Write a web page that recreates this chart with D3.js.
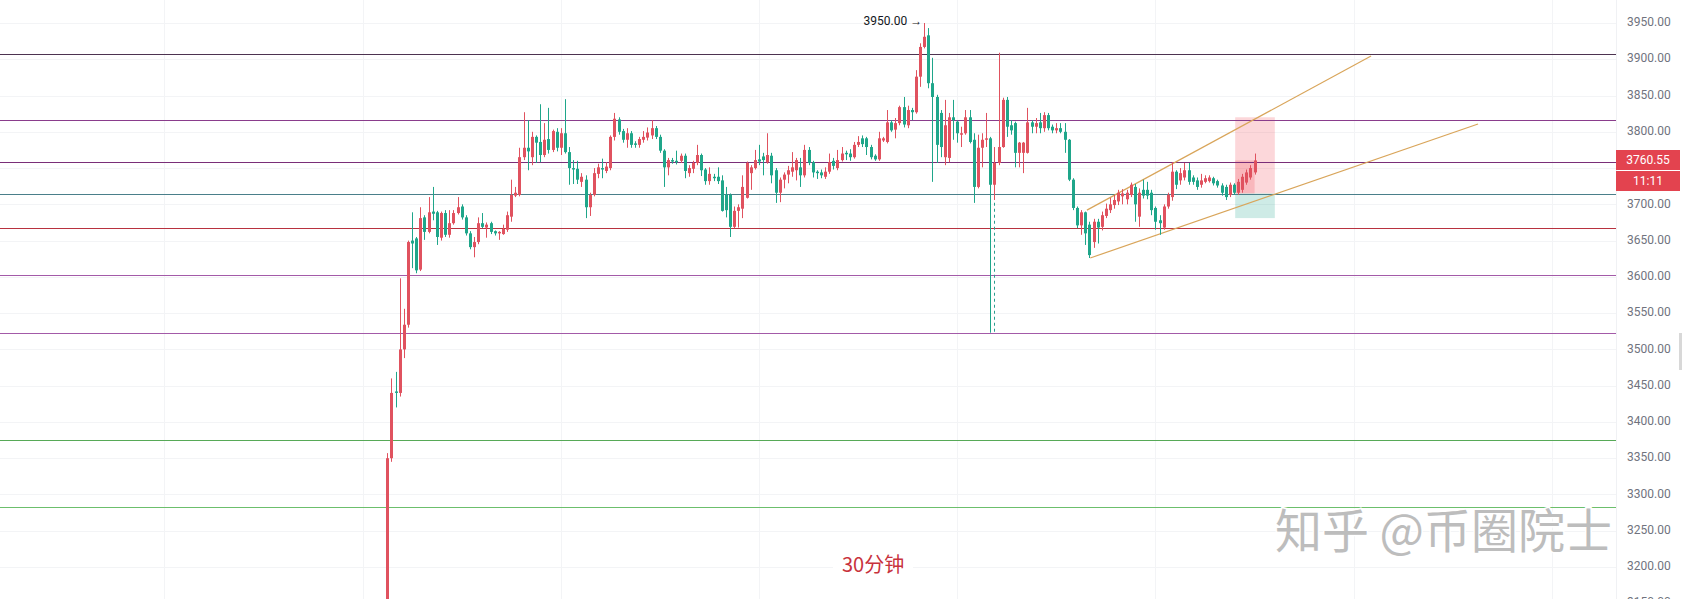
<!DOCTYPE html>
<html><head><meta charset="utf-8">
<script src="https://cdnjs.cloudflare.com/ajax/libs/d3/7.8.5/d3.min.js"></script>
<style>html,body{margin:0;padding:0;background:#fff;overflow:hidden}</style>
</head><body><svg id="c" width="1682" height="599"></svg>
<script>
// ---- DATA ----
// candles: [open, high, low, close], 30-minute bars
const candles = [
[3120,3357,3110,3350],[3350,3460,3345,3440],[3442,3469,3420,3440],[3440,3598,3435,3500],[3500,3556,3488,3534],
[3534,3650,3530,3648],[3650,3689,3612,3646],[3653,3655,3605,3609],[3610,3696,3608,3681],[3682,3685,3651,3662],
[3662,3710,3660,3689],[3690,3724,3678,3687],[3689,3691,3644,3655],[3654,3690,3650,3688],[3688,3692,3655,3658],
[3658,3692,3654,3674],[3674,3692,3672,3688],[3688,3710,3686,3696],[3697,3700,3679,3682],[3682,3685,3657,3660],
[3660,3663,3638,3641],[3641,3655,3627,3648],[3648,3682,3645,3674],[3674,3688,3667,3669],[3668,3675,3654,3672],
[3674,3676,3659,3662],[3663,3664,3657,3660],[3660,3663,3651,3662],[3659,3672,3658,3666],[3665,3690,3662,3685],
[3683,3734,3676,3713],[3712,3724,3710,3716],[3713,3778,3711,3765],[3765,3827,3761,3778],[3778,3816,3747,3773],
[3765,3800,3754,3793],[3793,3795,3757,3785],[3786,3838,3758,3768],[3768,3812,3765,3789],[3790,3833,3770,3775],
[3775,3803,3772,3801],[3800,3805,3773,3778],[3778,3805,3768,3798],[3798,3845,3770,3772],[3772,3779,3727,3750],
[3750,3761,3728,3748],[3749,3760,3728,3734],[3731,3743,3724,3738],[3734,3740,3681,3696],[3696,3716,3684,3713],
[3713,3750,3711,3743],[3742,3756,3736,3751],[3750,3763,3736,3748],[3746,3758,3743,3752],[3750,3795,3747,3793],
[3793,3826,3788,3818],[3817,3820,3796,3800],[3801,3804,3785,3789],[3789,3805,3778,3798],[3798,3801,3778,3782],
[3784,3787,3778,3782],[3782,3793,3778,3790],[3789,3801,3785,3793],[3792,3806,3788,3799],[3795,3816,3790,3805],
[3805,3808,3790,3793],[3793,3796,3771,3774],[3774,3776,3724,3751],[3751,3764,3740,3761],[3761,3764,3756,3759],
[3760,3774,3755,3758],[3760,3770,3757,3767],[3767,3770,3736,3746],[3743,3754,3738,3750],[3749,3760,3743,3757],
[3757,3782,3754,3768],[3768,3770,3739,3747],[3748,3750,3727,3732],[3732,3751,3727,3742],[3738,3742,3732,3736],
[3738,3751,3728,3732],[3733,3740,3690,3691],[3713,3724,3682,3692],[3713,3715,3655,3669],[3669,3697,3667,3691],
[3691,3700,3668,3696],[3694,3740,3681,3724],[3709,3759,3708,3757],[3743,3754,3720,3751],[3750,3775,3748,3761],
[3762,3782,3754,3759],[3766,3771,3740,3761],[3758,3798,3756,3768],[3767,3771,3729,3740],[3747,3750,3702,3716],
[3716,3737,3703,3734],[3734,3744,3722,3741],[3741,3753,3729,3747],[3745,3772,3738,3751],[3747,3764,3733,3761],
[3751,3764,3724,3740],[3740,3782,3737,3775],[3775,3779,3754,3757],[3758,3760,3737,3744],[3745,3747,3735,3743],
[3744,3748,3736,3740],[3738,3751,3735,3745],[3745,3770,3742,3758],[3760,3764,3748,3753],[3750,3775,3747,3761],
[3761,3779,3759,3770],[3771,3774,3761,3769],[3770,3776,3760,3765],[3765,3786,3763,3782],[3782,3794,3779,3786],
[3791,3795,3779,3783],[3791,3793,3768,3779],[3779,3782,3762,3765],[3767,3769,3760,3762],[3762,3800,3760,3791],
[3788,3793,3786,3791],[3786,3830,3784,3813],[3813,3816,3800,3802],[3803,3819,3791,3812],[3812,3836,3809,3834],
[3834,3848,3806,3810],[3809,3836,3805,3830],[3830,3833,3816,3827],[3827,3885,3825,3876],[3876,3922,3862,3917],
[3917,3950,3915,3931],[3933,3943,3860,3867],[3867,3902,3731,3848],[3848,3851,3757,3782],[3826,3830,3765,3779],
[3765,3844,3754,3809],[3764,3826,3758,3820],[3820,3844,3789,3816],[3814,3816,3785,3798],[3796,3807,3779,3798],
[3798,3830,3796,3820],[3820,3830,3784,3786],[3789,3798,3702,3724],[3724,3796,3722,3778],[3778,3798,3751,3789],
[3789,3826,3779,3791],[3791,3793,3523,3727],[3727,3779,3706,3757],[3757,3909,3754,3779],[3779,3847,3778,3844],
[3844,3848,3793,3807],[3809,3816,3796,3802],[3812,3814,3751,3771],[3771,3786,3751,3785],[3771,3786,3743,3785],
[3771,3833,3770,3813],[3813,3816,3798,3807],[3807,3819,3798,3812],[3813,3826,3798,3805],[3805,3827,3800,3823],
[3823,3826,3802,3805],[3807,3810,3798,3802],[3802,3812,3798,3805],[3805,3812,3798,3800],[3800,3812,3771,3789],
[3789,3790,3732,3734],[3734,3736,3692,3695],[3695,3697,3667,3671],[3671,3692,3658,3689],[3689,3690,3644,3660],
[3672,3676,3626,3630],[3648,3680,3640,3676],[3676,3680,3646,3668],[3669,3690,3664,3685],[3684,3701,3681,3694],
[3692,3709,3688,3700],[3699,3713,3694,3706],[3704,3720,3699,3716],[3711,3721,3700,3715],[3707,3720,3700,3716],
[3713,3730,3710,3727],[3724,3728,3676,3700],[3683,3722,3669,3716],[3720,3734,3708,3712],[3720,3731,3707,3712],
[3716,3720,3685,3692],[3695,3697,3665,3676],[3678,3685,3658,3674],[3668,3700,3665,3697],[3697,3716,3694,3713],
[3710,3758,3705,3745],[3745,3747,3721,3727],[3733,3750,3727,3743],[3737,3757,3733,3747],[3747,3757,3727,3731],
[3737,3740,3727,3731],[3733,3737,3720,3724],[3727,3742,3723,3733],[3731,3740,3729,3736],[3732,3740,3730,3737],
[3736,3738,3726,3729],[3732,3734,3723,3726],[3726,3729,3712,3716],[3724,3727,3706,3710],[3713,3730,3710,3727],
[3727,3729,3713,3716],[3716,3735,3713,3731],[3720,3742,3716,3738],[3730,3748,3727,3744],[3737,3754,3734,3750],
[3744,3770,3741,3760.55]
];
const yTicks = d3.range(3150, 3951, 50);
const levels = [3907, 3816, 3759, 3714, 3668, 3602.5, 3522, 3375, 3283];
const levelColors = ["#4d3350", "#8a3d8c", "#7a2e78", "#4a7f8a", "#b8323f", "#a35aa8", "#a35aa8", "#57a957", "#6cbf6c"];
const dayGrid = [-101, -53, -5, 43, 91, 139, 187, 235, 283];
const channelUpper = [[170.4, 3692], [239.2, 3904.5]];
const channelLower = [[171.2, 3626], [265.1, 3810.8]];
const posStart = 206.3, posEnd = 215.9, posEntry = 3715, posStop = 3820, posTarget = 3681;
const spikeLine = [148, 3727, 3522];
const lastPrice = 3760.55, countdown = "11:11", peakText = "3950.00 →";
const caption = "30分钟", watermark = "知乎 @币圈院士";

// ---- CHART ----
const W = 1682, H = 599, axisX = 1616;
const svg = d3.select("#c");
const x = d3.scaleLinear().domain([1, candles.length]).range([387.3, 387.3 + (candles.length - 1) * 4.13]);
const y = d3.scaleLinear().domain([3200, 3950]).range([567, 23]);
const up = "#e0525f", down = "#1fa68a";

// grid
const g = svg.append("g");
g.selectAll("line.h").data(yTicks).join("line")
  .attr("x1", 0).attr("x2", axisX).attr("y1", d => Math.round(y(d)) + 0.5).attr("y2", d => Math.round(y(d)) + 0.5)
  .attr("stroke", "#f3f4f6").attr("stroke-width", 1);
g.selectAll("line.v").data(dayGrid).join("line")
  .attr("x1", d => Math.round(x(d)) + 0.5).attr("x2", d => Math.round(x(d)) + 0.5).attr("y1", 0).attr("y2", H)
  .attr("stroke", "#f3f4f6").attr("stroke-width", 1);

// position box
const pb = svg.append("g");
pb.append("rect").attr("x", x(posStart)).attr("width", x(posEnd) - x(posStart))
  .attr("y", y(posStop)).attr("height", y(posEntry) - y(posStop)).attr("fill", "rgba(242,54,69,0.2)");
pb.append("rect").attr("x", x(posStart)).attr("width", x(posEnd) - x(posStart))
  .attr("y", y(posEntry)).attr("height", y(posTarget) - y(posEntry)).attr("fill", "rgba(8,153,129,0.2)");
pb.append("rect").attr("x", x(posStart)).attr("width", x(candles.length) - x(posStart))
  .attr("y", y(lastPrice)).attr("height", y(posEntry) - y(lastPrice)).attr("fill", "rgba(242,54,69,0.2)");

// horizontal levels
svg.append("g").selectAll("line").data(levels).join("line")
  .attr("x1", 0).attr("x2", axisX).attr("y1", d => Math.round(y(d)) + 0.5).attr("y2", d => Math.round(y(d)) + 0.5)
  .attr("stroke", (d, i) => levelColors[i]).attr("stroke-width", 1);

// channel lines
const line = d3.line().x(d => x(d[0])).y(d => y(d[1]));
svg.append("path").attr("d", line(channelUpper)).attr("stroke", "#d9a55a").attr("fill", "none").attr("stroke-width", 1.2);
svg.append("path").attr("d", line(channelLower)).attr("stroke", "#d9a55a").attr("fill", "none").attr("stroke-width", 1.2);

// dashed line
svg.append("line").attr("x1", Math.round(x(spikeLine[0])) + 0.5).attr("x2", Math.round(x(spikeLine[0])) + 0.5)
  .attr("y1", y(spikeLine[1])).attr("y2", y(spikeLine[2])).attr("stroke", "#2a9d8f").attr("stroke-dasharray", "3,3");

// candles
const cg = svg.append("g");
const cs = cg.selectAll("g").data(candles).join("g");
cs.append("line")
  .attr("x1", (d, i) => Math.round(x(i + 1)) + 0.5).attr("x2", (d, i) => Math.round(x(i + 1)) + 0.5)
  .attr("y1", d => y(d[1])).attr("y2", d => y(d[2]))
  .attr("stroke", d => d[3] >= d[0] ? up : down).attr("stroke-width", 1);
cs.append("rect")
  .attr("x", (d, i) => Math.round(x(i + 1)) - 1).attr("width", 3)
  .attr("y", d => y(Math.max(d[0], d[3])))
  .attr("height", d => Math.max(1, Math.abs(y(d[0]) - y(d[3]))))
  .attr("fill", d => d[3] >= d[0] ? up : down);

// peak label
const maxIdx = d3.maxIndex(candles, d => d[1]);
svg.append("text").attr("x", x(maxIdx + 1) - 2).attr("y", y(candles[maxIdx][1]) - 1)
  .attr("text-anchor", "end").attr("dominant-baseline", "middle")
  .attr("font-family", "Roboto, 'Liberation Sans', sans-serif").attr("font-size", 12).attr("fill", "#131722")
  .text(peakText);

// caption
const capG = svg.append("g");
capG.append("rect").attr("x", 833).attr("y", 550).attr("width", 80).attr("height", 28).attr("fill", "#fff");
capG.append("text").attr("x", 842).attr("y", 572).attr("font-family", "'Noto Sans CJK SC', sans-serif")
  .attr("font-size", 20).attr("fill", "#c8323c").text(caption);

// price axis
const ax = svg.append("g");
ax.append("rect").attr("x", axisX).attr("y", 0).attr("width", W - axisX).attr("height", H).attr("fill", "#fff");
ax.append("line").attr("x1", axisX + 0.5).attr("x2", axisX + 0.5).attr("y1", 0).attr("y2", H).attr("stroke", "#f0f1f4");
const ly = Math.round(y(lastPrice));
const shownTicks = yTicks.filter(d => Math.abs(y(d) - (ly + 10)) > 28);
ax.selectAll("text.tick").data(shownTicks).join("text").attr("class", "tick")
  .attr("x", 1627).attr("y", d => y(d)).attr("dominant-baseline", "middle")
  .attr("font-family", "Roboto, 'Liberation Sans', sans-serif").attr("font-size", 12).attr("fill", "#70737e")
  .text(d => d3.format(".2f")(d));
ax.append("rect").attr("x", axisX).attr("y", ly - 10).attr("width", 64).attr("height", 20).attr("fill", "#e3434f");
ax.append("rect").attr("x", axisX).attr("y", ly + 11).attr("width", 64).attr("height", 20).attr("fill", "#e3434f");
ax.append("text").attr("x", axisX + 32).attr("y", ly + 0.5).attr("text-anchor", "middle").attr("dominant-baseline", "middle")
  .attr("font-family", "Roboto, 'Liberation Sans', sans-serif").attr("font-size", 12).attr("fill", "#fff").text(d3.format(".2f")(lastPrice));
ax.append("text").attr("x", axisX + 32).attr("y", ly + 21.5).attr("text-anchor", "middle").attr("dominant-baseline", "middle")
  .attr("font-family", "Roboto, 'Liberation Sans', sans-serif").attr("font-size", 12).attr("fill", "#fff").text(countdown);
ax.append("rect").attr("x", 1679).attr("y", 333).attr("width", 3).attr("height", 37).attr("fill", "#d8d8d8");

// watermark
svg.append("text").attr("x", 1275).attr("y", 548)
  .attr("font-family", "'Noto Sans CJK SC', sans-serif").attr("font-size", 47)
  .attr("fill", "#bdbdbd").attr("stroke", "#ffffff").attr("stroke-width", 3).attr("paint-order", "stroke")
  .text(watermark);
</script></body></html>
